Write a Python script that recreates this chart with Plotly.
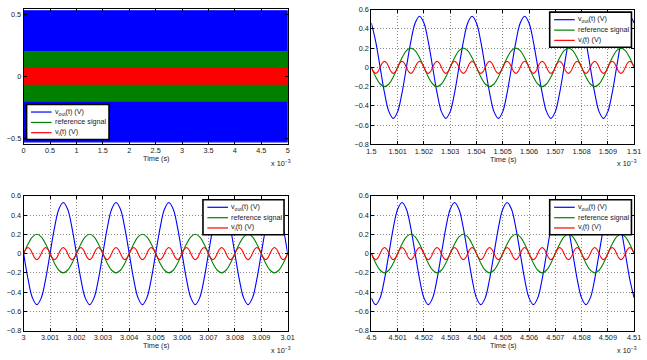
import numpy as np
import plotly.graph_objects as go

W, H = 647, 360

# ---------------- data (time in units of 1e-3 s) ----------------
series_names = ["v<sub>out</sub>(t) (V)", "reference signal", "v<sub>i</sub>(t) (V)"]
series_colors = ["#0000ff", "#008000", "#ff0000"]

# overview panel: 0 .. 5 ms, signals too dense -> envelope (peak) values
overview_window = [0.0, 5.0]
overview_vout_env = [-0.53, 0.53]
overview_ref_env = [-0.2, 0.2]
overview_vi_env = [-0.063, 0.063]
overview_xticks = [0, 0.5, 1, 1.5, 2, 2.5, 3, 3.5, 4, 4.5, 5]
overview_xticklabels = ["0", "0.5", "1", "1.5", "2", "2.5", "3", "3.5", "4", "4.5", "5"]
overview_yticks = [-0.5, 0, 0.5]
overview_yticklabels = ["\u22120.5", "0", "0.5"]

# zoomed windows; vout/ref sampled every 1/6 us (61 pts), vi every 1/12 us (121 pts)
win1 = [1.5, 1.51]
win2 = [3.0, 3.01]
win3 = [4.5, 4.51]

win1_vout = [0.46, 0.265, 0, -0.265, -0.46, -0.53, -0.46, -0.265, 0, 0.265, 0.46, 0.53,
             0.46, 0.265, 0, -0.265, -0.46, -0.53, -0.46, -0.265, 0, 0.265, 0.46, 0.53,
             0.46, 0.265, 0, -0.265, -0.46, -0.53, -0.46, -0.265, 0, 0.265, 0.46, 0.53,
             0.46, 0.265, 0, -0.265, -0.46, -0.53, -0.46, -0.265, 0, 0.265, 0.46, 0.53,
             0.46, 0.265, 0, -0.265, -0.46, -0.53, -0.46, -0.265, 0, 0.265, 0.46, 0.53,
             0.46]
win1_ref = [0, -0.1, -0.173, -0.2, -0.173, -0.1, 0, 0.1, 0.173, 0.2, 0.173, 0.1,
            0, -0.1, -0.173, -0.2, -0.173, -0.1, 0, 0.1, 0.173, 0.2, 0.173, 0.1,
            0, -0.1, -0.173, -0.2, -0.173, -0.1, 0, 0.1, 0.173, 0.2, 0.173, 0.1,
            0, -0.1, -0.173, -0.2, -0.173, -0.1, 0, 0.1, 0.173, 0.2, 0.173, 0.1,
            0, -0.1, -0.173, -0.2, -0.173, -0.1, 0, 0.1, 0.173, 0.2, 0.173, 0.1,
            0]
win1_vi = [0, -0.045, -0.063, -0.045, 0, 0.045, 0.063, 0.045, 0, -0.045, -0.063, -0.045, 0, 0.045, 0.063, 0.045,
           0, -0.045, -0.063, -0.045, 0, 0.045, 0.063, 0.045, 0, -0.045, -0.063, -0.045, 0, 0.045, 0.063, 0.045,
           0, -0.045, -0.063, -0.045, 0, 0.045, 0.063, 0.045, 0, -0.045, -0.063, -0.045, 0, 0.045, 0.063, 0.045,
           0, -0.045, -0.063, -0.045, 0, 0.045, 0.063, 0.045, 0, -0.045, -0.063, -0.045, 0, 0.045, 0.063, 0.045,
           0, -0.045, -0.063, -0.045, 0, 0.045, 0.063, 0.045, 0, -0.045, -0.063, -0.045, 0, 0.045, 0.063, 0.045,
           0, -0.045, -0.063, -0.045, 0, 0.045, 0.063, 0.045, 0, -0.045, -0.063, -0.045, 0, 0.045, 0.063, 0.045,
           0, -0.045, -0.063, -0.045, 0, 0.045, 0.063, 0.045, 0, -0.045, -0.063, -0.045, 0, 0.045, 0.063, 0.045,
           0, -0.045, -0.063, -0.045, 0, 0.045, 0.063, 0.045,
           0]

win2_vout = [0, -0.265, -0.46, -0.53, -0.46, -0.265, 0, 0.265, 0.46, 0.53, 0.46, 0.265,
             0, -0.265, -0.46, -0.53, -0.46, -0.265, 0, 0.265, 0.46, 0.53, 0.46, 0.265,
             0, -0.265, -0.46, -0.53, -0.46, -0.265, 0, 0.265, 0.46, 0.53, 0.46, 0.265,
             0, -0.265, -0.46, -0.53, -0.46, -0.265, 0, 0.265, 0.46, 0.53, 0.46, 0.265,
             0, -0.265, -0.46, -0.53, -0.46, -0.265, 0, 0.265, 0.46, 0.53, 0.46, 0.265,
             0]
win2_ref = [0, 0.1, 0.173, 0.2, 0.173, 0.1, 0, -0.1, -0.173, -0.2, -0.173, -0.1,
            0, 0.1, 0.173, 0.2, 0.173, 0.1, 0, -0.1, -0.173, -0.2, -0.173, -0.1,
            0, 0.1, 0.173, 0.2, 0.173, 0.1, 0, -0.1, -0.173, -0.2, -0.173, -0.1,
            0, 0.1, 0.173, 0.2, 0.173, 0.1, 0, -0.1, -0.173, -0.2, -0.173, -0.1,
            0, 0.1, 0.173, 0.2, 0.173, 0.1, 0, -0.1, -0.173, -0.2, -0.173, -0.1,
            0]
win2_vi = [0, 0.045, 0.063, 0.045, 0, -0.045, -0.063, -0.045, 0, 0.045, 0.063, 0.045, 0, -0.045, -0.063, -0.045,
           0, 0.045, 0.063, 0.045, 0, -0.045, -0.063, -0.045, 0, 0.045, 0.063, 0.045, 0, -0.045, -0.063, -0.045,
           0, 0.045, 0.063, 0.045, 0, -0.045, -0.063, -0.045, 0, 0.045, 0.063, 0.045, 0, -0.045, -0.063, -0.045,
           0, 0.045, 0.063, 0.045, 0, -0.045, -0.063, -0.045, 0, 0.045, 0.063, 0.045, 0, -0.045, -0.063, -0.045,
           0, 0.045, 0.063, 0.045, 0, -0.045, -0.063, -0.045, 0, 0.045, 0.063, 0.045, 0, -0.045, -0.063, -0.045,
           0, 0.045, 0.063, 0.045, 0, -0.045, -0.063, -0.045, 0, 0.045, 0.063, 0.045, 0, -0.045, -0.063, -0.045,
           0, 0.045, 0.063, 0.045, 0, -0.045, -0.063, -0.045, 0, 0.045, 0.063, 0.045, 0, -0.045, -0.063, -0.045,
           0, 0.045, 0.063, 0.045, 0, -0.045, -0.063, -0.045,
           0]

win3_vout = [-0.46, -0.53, -0.46, -0.265, 0, 0.265, 0.46, 0.53, 0.46, 0.265, 0, -0.265,
             -0.46, -0.53, -0.46, -0.265, 0, 0.265, 0.46, 0.53, 0.46, 0.265, 0, -0.265,
             -0.46, -0.53, -0.46, -0.265, 0, 0.265, 0.46, 0.53, 0.46, 0.265, 0, -0.265,
             -0.46, -0.53, -0.46, -0.265, 0, 0.265, 0.46, 0.53, 0.46, 0.265, 0, -0.265,
             -0.46, -0.53, -0.46, -0.265, 0, 0.265, 0.46, 0.53, 0.46, 0.265, 0, -0.265,
             -0.46]
win3_ref = [0, -0.1, -0.173, -0.2, -0.173, -0.1, 0, 0.1, 0.173, 0.2, 0.173, 0.1,
            0, -0.1, -0.173, -0.2, -0.173, -0.1, 0, 0.1, 0.173, 0.2, 0.173, 0.1,
            0, -0.1, -0.173, -0.2, -0.173, -0.1, 0, 0.1, 0.173, 0.2, 0.173, 0.1,
            0, -0.1, -0.173, -0.2, -0.173, -0.1, 0, 0.1, 0.173, 0.2, 0.173, 0.1,
            0, -0.1, -0.173, -0.2, -0.173, -0.1, 0, 0.1, 0.173, 0.2, 0.173, 0.1,
            0]
win3_vi = [0, -0.045, -0.063, -0.045, 0, 0.045, 0.063, 0.045, 0, -0.045, -0.063, -0.045, 0, 0.045, 0.063, 0.045,
           0, -0.045, -0.063, -0.045, 0, 0.045, 0.063, 0.045, 0, -0.045, -0.063, -0.045, 0, 0.045, 0.063, 0.045,
           0, -0.045, -0.063, -0.045, 0, 0.045, 0.063, 0.045, 0, -0.045, -0.063, -0.045, 0, 0.045, 0.063, 0.045,
           0, -0.045, -0.063, -0.045, 0, 0.045, 0.063, 0.045, 0, -0.045, -0.063, -0.045, 0, 0.045, 0.063, 0.045,
           0, -0.045, -0.063, -0.045, 0, 0.045, 0.063, 0.045, 0, -0.045, -0.063, -0.045, 0, 0.045, 0.063, 0.045,
           0, -0.045, -0.063, -0.045, 0, 0.045, 0.063, 0.045, 0, -0.045, -0.063, -0.045, 0, 0.045, 0.063, 0.045,
           0, -0.045, -0.063, -0.045, 0, 0.045, 0.063, 0.045, 0, -0.045, -0.063, -0.045, 0, 0.045, 0.063, 0.045,
           0, -0.045, -0.063, -0.045, 0, 0.045, 0.063, 0.045,
           0]

win1_xticklabels = ["1.5", "1.501", "1.502", "1.503", "1.504", "1.505", "1.506", "1.507", "1.508", "1.509", "1.51"]
win2_xticklabels = ["3", "3.001", "3.002", "3.003", "3.004", "3.005", "3.006", "3.007", "3.008", "3.009", "3.01"]
win3_xticklabels = ["4.5", "4.501", "4.502", "4.503", "4.504", "4.505", "4.506", "4.507", "4.508", "4.509", "4.51"]
zoom_yticks = [-0.8, -0.6, -0.4, -0.2, 0, 0.2, 0.4, 0.6]
zoom_yticklabels = ["\u22120.8", "\u22120.6", "\u22120.4", "\u22120.2", "0", "0.2", "0.4", "0.6"]

# ---------------- layout helpers ----------------
def px(x):
    return x / W

def py(y):
    return 1 - y / H

FONT = "Liberation Sans, Arial, Helvetica, sans-serif"
TXT = "#1a1a1a"
FS = 7.3

# panel rectangles in pixels (left, top, right, bottom)
panels = [
    (19.0, 5.0, 288.0, 143.3),
    (373.3, 5.7, 641.0, 144.0),
    (19.0, 196.7, 288.0, 335.0),
    (373.3, 196.7, 641.0, 335.0),
]
legend_boxes = [
    (22.0, 103.0, 106.0, 139.0),
    (555.0, 8.3, 638.3, 44.3),
    (201.7, 200.7, 284.3, 236.7),
    (555.0, 200.7, 638.3, 236.7),
]

fig = go.Figure()

# overview panel: bands (dense oscillation)
for env, col, nm in [(overview_vout_env, series_colors[0], series_names[0]),
                     (overview_ref_env, series_colors[1], series_names[1]),
                     (overview_vi_env, series_colors[2], series_names[2])]:
    x0, x1 = overview_window
    fig.add_trace(go.Scatter(
        x=[x0, x1, x1, x0, x0], y=[env[0], env[0], env[1], env[1], env[0]],
        mode="lines", fill="toself", fillcolor=col,
        line=dict(color=col, width=1.2), name=nm, showlegend=False,
        hoverinfo="skip", xaxis="x", yaxis="y"))

wins = [(win1, win1_vout, win1_ref, win1_vi, win1_xticklabels),
        (win2, win2_vout, win2_ref, win2_vi, win2_xticklabels),
        (win3, win3_vout, win3_ref, win3_vi, win3_xticklabels)]

layout = dict(
    width=W, height=H, margin=dict(l=0, r=0, t=0, b=0),
    paper_bgcolor="white", plot_bgcolor="white",
    font=dict(family=FONT, size=FS, color=TXT),
    showlegend=False,
)

def axis_common():
    return dict(showline=True, linecolor="black", linewidth=1, mirror="ticks",
                ticks="inside", ticklen=3, tickwidth=1, tickcolor="black",
                zeroline=False, tickfont=dict(family=FONT, size=FS, color=TXT),
                griddash="1px,2px", gridcolor="#8a8a8a", gridwidth=1, fixedrange=True)

# overview axes
l, t, r, b = panels[0]
ax = axis_common()
ax.update(domain=[px(l), px(r)], range=overview_window, tickvals=overview_xticks,
          ticktext=overview_xticklabels, showgrid=False, anchor="y")
layout["xaxis"] = ax
ay = axis_common()
ay.update(domain=[py(b), py(t)], range=[-0.545, 0.545], tickvals=overview_yticks,
          ticktext=overview_yticklabels, showgrid=False, anchor="x")
layout["yaxis"] = ay

for i, (win, vout, ref, vi, xlabels) in enumerate(wins):
    k = i + 2
    l, t, r, b = panels[i + 1]
    tt = np.linspace(win[0], win[1], len(vout))
    tv = np.linspace(win[0], win[1], len(vi))
    xticks = np.linspace(win[0], win[1], len(xlabels))
    for tx, vals, col, nm in [(tt, vout, series_colors[0], series_names[0]),
                              (tt, ref, series_colors[1], series_names[1]),
                              (tv, vi, series_colors[2], series_names[2])]:
        fig.add_trace(go.Scatter(
            x=tx, y=vals, mode="lines", name=nm, showlegend=False,
            line=dict(color=col, width=1.1, shape="spline", smoothing=1.0),
            xaxis=f"x{k}", yaxis=f"y{k}", hoverinfo="skip"))
    ax = axis_common()
    ax.update(domain=[px(l), px(r)], range=win, tickvals=list(xticks),
              ticktext=xlabels, showgrid=True, anchor=f"y{k}")
    layout[f"xaxis{k}"] = ax
    ay = axis_common()
    ay.update(domain=[py(b), py(t)], range=[-0.8, 0.6], tickvals=zoom_yticks,
              ticktext=zoom_yticklabels, showgrid=True, anchor=f"x{k}")
    layout[f"yaxis{k}"] = ay

shapes = []
annotations = []
for i, (l, t, r, b) in enumerate(panels):
    # axis title and exponent
    annotations.append(dict(x=px((l + r) / 2), y=py(b + 15.4), xref="paper", yref="paper",
                            text="Time (s)", showarrow=False, xanchor="center", yanchor="middle",
                            font=dict(family=FONT, size=FS, color=TXT)))
    annotations.append(dict(x=px(min(r + 5, W - 0.5)), y=py(b + 19.5), xref="paper", yref="paper",
                            text="x 10<sup>\u22123</sup>", showarrow=False, xanchor="right",
                            yanchor="middle", font=dict(family=FONT, size=FS, color=TXT)))
    # legend
    bl, bt, br, bb = legend_boxes[i]
    shapes.append(dict(type="rect", xref="paper", yref="paper", x0=px(bl), x1=px(br),
                       y0=py(bb), y1=py(bt), fillcolor="white",
                       line=dict(color="black", width=1.6), layer="above"))
    for j, dy in enumerate([7.8, 18.5, 29.0]):
        yy = bt + dy
        shapes.append(dict(type="line", xref="paper", yref="paper", x0=px(bl + 4.5),
                           x1=px(bl + 25.5), y0=py(yy), y1=py(yy),
                           line=dict(color=series_colors[j], width=1.2), layer="above"))
        annotations.append(dict(x=px(bl + 27), y=py(yy - 0.5), xref="paper",
                                yref="paper", text=series_names[j], showarrow=False,
                                xanchor="left", yanchor="middle",
                                font=dict(family=FONT, size=7.2, color=TXT)))

layout["shapes"] = shapes
layout["annotations"] = annotations
fig.update_layout(**layout)
fig.write_html("out.html",
               config={"displayModeBar": False, "staticPlot": True},
               post_script="document.body.style.margin='0';document.body.style.overflow='hidden';")
